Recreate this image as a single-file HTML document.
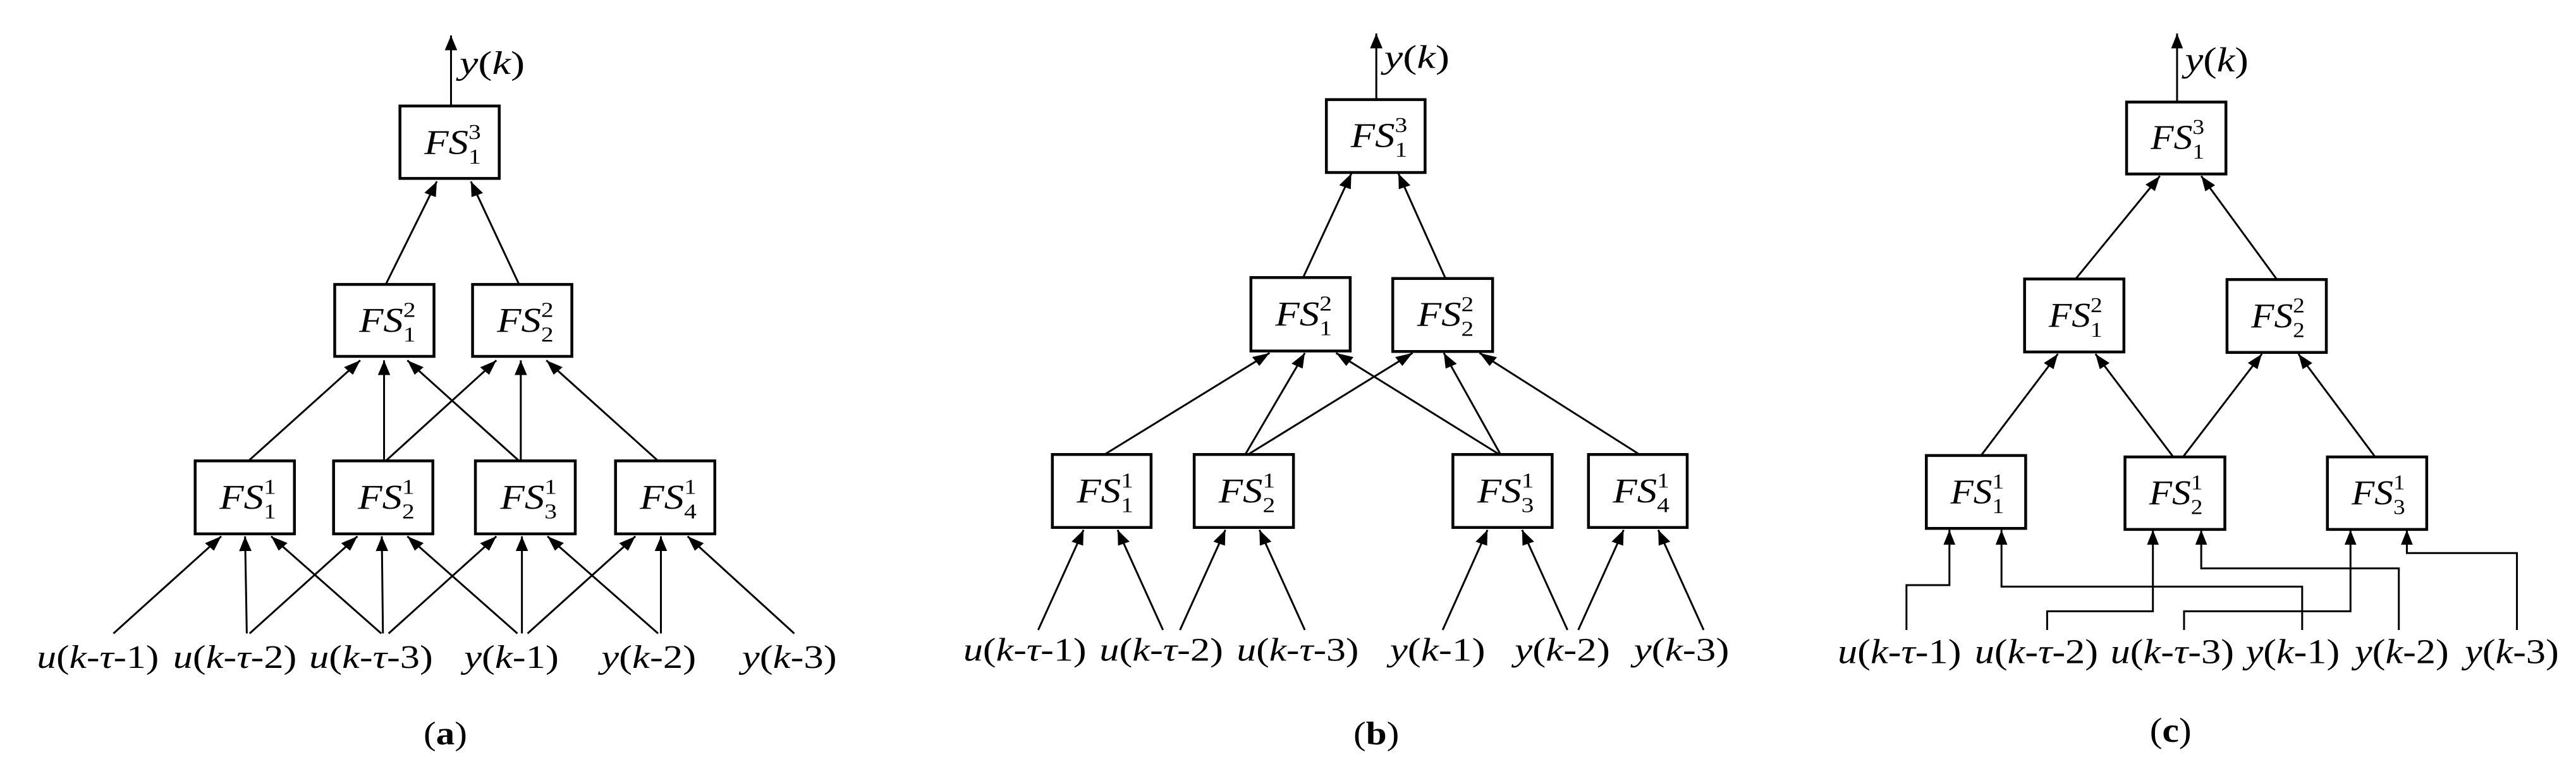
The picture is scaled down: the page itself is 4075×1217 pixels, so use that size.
<!DOCTYPE html>
<html><head><meta charset="utf-8"><style>
html,body{margin:0;padding:0;background:#fff;}
body{width:4075px;height:1217px;position:relative;overflow:hidden;}
svg{position:absolute;top:0;}
text{font-family:"Liberation Serif",serif;fill:#000;}
.ln{stroke:#000;stroke-width:3;fill:none;vector-effect:non-scaling-stroke;}
.bx{stroke:#000;stroke-width:4.5;fill:#fff;vector-effect:non-scaling-stroke;}
</style></head><body>

<!-- Panel (a) -->
<svg style="left:0" width="1400" height="1217" viewBox="0 0 1560 1560" preserveAspectRatio="none">
<defs><marker id="ma" viewBox="0 0 30 22" refX="30" refY="11" markerWidth="30" markerHeight="22" orient="auto" markerUnits="userSpaceOnUse"><path d="M0,0 L30,11 L0,22 z" fill="#000"/></marker></defs>
<g marker-end="url(#ma)">
<line class="ln" x1="795" y1="215" x2="795" y2="72"/>
<line class="ln" x1="680" y1="577" x2="770" y2="368"/>
<line class="ln" x1="915" y1="577" x2="830" y2="368"/>
<line class="ln" x1="438" y1="935" x2="635" y2="731"/>
<line class="ln" x1="677" y1="935" x2="677" y2="731"/>
<line class="ln" x1="915" y1="935" x2="718" y2="731"/>
<line class="ln" x1="680" y1="935" x2="875" y2="731"/>
<line class="ln" x1="918" y1="935" x2="918" y2="731"/>
<line class="ln" x1="1160" y1="935" x2="963" y2="731"/>
<line class="ln" x1="200" y1="1285" x2="390" y2="1088"/>
<line class="ln" x1="435" y1="1285" x2="432" y2="1088"/>
<line class="ln" x1="672" y1="1285" x2="478" y2="1088"/>
<line class="ln" x1="440" y1="1285" x2="630" y2="1088"/>
<line class="ln" x1="675" y1="1285" x2="673" y2="1088"/>
<line class="ln" x1="912" y1="1285" x2="718" y2="1088"/>
<line class="ln" x1="685" y1="1285" x2="875" y2="1088"/>
<line class="ln" x1="920" y1="1285" x2="920" y2="1088"/>
<line class="ln" x1="1160" y1="1285" x2="965" y2="1088"/>
<line class="ln" x1="930" y1="1285" x2="1120" y2="1088"/>
<line class="ln" x1="1165" y1="1285" x2="1165" y2="1088"/>
<line class="ln" x1="1400" y1="1285" x2="1212" y2="1088"/>
</g>
<rect class="bx" x="705" y="215" width="175" height="147"/>
<rect class="bx" x="590" y="577" width="175" height="146"/>
<rect class="bx" x="833" y="577" width="175" height="146"/>
<rect class="bx" x="344" y="935" width="175" height="148"/>
<rect class="bx" x="588" y="935" width="175" height="148"/>
<rect class="bx" x="838" y="935" width="176" height="148"/>
<rect class="bx" x="1085" y="935" width="175" height="148"/>
<g font-size="70">
<text x="748" y="312"><tspan font-style="italic">FS</tspan><tspan font-size="44" dy="20">1</tspan><tspan font-size="44" dx="-22" dy="-50">3</tspan></text>
<text x="633" y="673"><tspan font-style="italic">FS</tspan><tspan font-size="44" dy="20">1</tspan><tspan font-size="44" dx="-22" dy="-50">2</tspan></text>
<text x="876" y="673"><tspan font-style="italic">FS</tspan><tspan font-size="44" dy="20">2</tspan><tspan font-size="44" dx="-22" dy="-50">2</tspan></text>
<text x="387" y="1032"><tspan font-style="italic">FS</tspan><tspan font-size="44" dy="20">1</tspan><tspan font-size="44" dx="-22" dy="-50">1</tspan></text>
<text x="631" y="1032"><tspan font-style="italic">FS</tspan><tspan font-size="44" dy="20">2</tspan><tspan font-size="44" dx="-22" dy="-50">1</tspan></text>
<text x="882" y="1032"><tspan font-style="italic">FS</tspan><tspan font-size="44" dy="20">3</tspan><tspan font-size="44" dx="-22" dy="-50">1</tspan></text>
<text x="1128" y="1032"><tspan font-style="italic">FS</tspan><tspan font-size="44" dy="20">4</tspan><tspan font-size="44" dx="-22" dy="-50">1</tspan></text>
</g>
<g font-size="66">
<text x="810" y="150" textLength="115" lengthAdjust="spacingAndGlyphs"><tspan font-style="italic">y</tspan>(<tspan font-style="italic">k</tspan>)</text>
<text x="65" y="1355" textLength="215" lengthAdjust="spacingAndGlyphs"><tspan font-style="italic">u</tspan>(<tspan font-style="italic">k</tspan>-<tspan font-style="italic">τ</tspan>-1)</text>
<text x="305" y="1355" textLength="218" lengthAdjust="spacingAndGlyphs"><tspan font-style="italic">u</tspan>(<tspan font-style="italic">k</tspan>-<tspan font-style="italic">τ</tspan>-2)</text>
<text x="545" y="1355" textLength="218" lengthAdjust="spacingAndGlyphs"><tspan font-style="italic">u</tspan>(<tspan font-style="italic">k</tspan>-<tspan font-style="italic">τ</tspan>-3)</text>
<text x="818" y="1355" textLength="167" lengthAdjust="spacingAndGlyphs"><tspan font-style="italic">y</tspan>(<tspan font-style="italic">k</tspan>-1)</text>
<text x="1060" y="1355" textLength="167" lengthAdjust="spacingAndGlyphs"><tspan font-style="italic">y</tspan>(<tspan font-style="italic">k</tspan>-2)</text>
<text x="1308" y="1355" textLength="167" lengthAdjust="spacingAndGlyphs"><tspan font-style="italic">y</tspan>(<tspan font-style="italic">k</tspan>-3)</text>
<text x="785" y="1510" text-anchor="middle">(<tspan font-weight="bold">a</tspan>)</text>
</g>
</svg>

<!-- Panel (b) -->
<svg style="left:1400px" width="1400" height="1217" viewBox="0 0 1560 1560" preserveAspectRatio="none">
<defs><marker id="mb" viewBox="0 0 30 22" refX="30" refY="11" markerWidth="30" markerHeight="22" orient="auto" markerUnits="userSpaceOnUse"><path d="M0,0 L30,11 L0,22 z" fill="#000"/></marker></defs>
<g marker-end="url(#mb)">
<line class="ln" x1="866" y1="202" x2="866" y2="68"/>
<line class="ln" x1="737" y1="563" x2="822" y2="352"/>
<line class="ln" x1="988" y1="565" x2="905" y2="352"/>
<line class="ln" x1="387" y1="922" x2="678" y2="716"/>
<line class="ln" x1="635" y1="922" x2="740" y2="716"/>
<line class="ln" x1="640" y1="922" x2="930" y2="716"/>
<line class="ln" x1="1083" y1="922" x2="795" y2="716"/>
<line class="ln" x1="1085" y1="922" x2="985" y2="716"/>
<line class="ln" x1="1330" y1="922" x2="1048" y2="716"/>
<line class="ln" x1="270" y1="1278" x2="350" y2="1075"/>
<line class="ln" x1="490" y1="1278" x2="410" y2="1075"/>
<line class="ln" x1="520" y1="1278" x2="600" y2="1075"/>
<line class="ln" x1="740" y1="1278" x2="660" y2="1075"/>
<line class="ln" x1="983" y1="1278" x2="1062" y2="1075"/>
<line class="ln" x1="1203" y1="1278" x2="1123" y2="1075"/>
<line class="ln" x1="1222" y1="1278" x2="1302" y2="1075"/>
<line class="ln" x1="1443" y1="1278" x2="1363" y2="1075"/>
</g>
<rect class="bx" x="778" y="202" width="174" height="148"/>
<rect class="bx" x="645" y="563" width="175" height="149"/>
<rect class="bx" x="895" y="565" width="176" height="148"/>
<rect class="bx" x="295" y="922" width="174" height="148"/>
<rect class="bx" x="545" y="922" width="175" height="148"/>
<rect class="bx" x="1001" y="922" width="175" height="148"/>
<rect class="bx" x="1240" y="922" width="174" height="148"/>
<g font-size="70">
<text x="821" y="298"><tspan font-style="italic">FS</tspan><tspan font-size="44" dy="20">1</tspan><tspan font-size="44" dx="-22" dy="-50">3</tspan></text>
<text x="688" y="660"><tspan font-style="italic">FS</tspan><tspan font-size="44" dy="20">1</tspan><tspan font-size="44" dx="-22" dy="-50">2</tspan></text>
<text x="938" y="661"><tspan font-style="italic">FS</tspan><tspan font-size="44" dy="20">2</tspan><tspan font-size="44" dx="-22" dy="-50">2</tspan></text>
<text x="338" y="1019"><tspan font-style="italic">FS</tspan><tspan font-size="44" dy="20">1</tspan><tspan font-size="44" dx="-22" dy="-50">1</tspan></text>
<text x="588" y="1019"><tspan font-style="italic">FS</tspan><tspan font-size="44" dy="20">2</tspan><tspan font-size="44" dx="-22" dy="-50">1</tspan></text>
<text x="1044" y="1019"><tspan font-style="italic">FS</tspan><tspan font-size="44" dy="20">3</tspan><tspan font-size="44" dx="-22" dy="-50">1</tspan></text>
<text x="1283" y="1019"><tspan font-style="italic">FS</tspan><tspan font-size="44" dy="20">4</tspan><tspan font-size="44" dx="-22" dy="-50">1</tspan></text>
</g>
<g font-size="66">
<text x="880" y="138" textLength="115" lengthAdjust="spacingAndGlyphs"><tspan font-style="italic">y</tspan>(<tspan font-style="italic">k</tspan>)</text>
<text x="138" y="1340" textLength="217" lengthAdjust="spacingAndGlyphs"><tspan font-style="italic">u</tspan>(<tspan font-style="italic">k</tspan>-<tspan font-style="italic">τ</tspan>-1)</text>
<text x="378" y="1340" textLength="218" lengthAdjust="spacingAndGlyphs"><tspan font-style="italic">u</tspan>(<tspan font-style="italic">k</tspan>-<tspan font-style="italic">τ</tspan>-2)</text>
<text x="620" y="1340" textLength="215" lengthAdjust="spacingAndGlyphs"><tspan font-style="italic">u</tspan>(<tspan font-style="italic">k</tspan>-<tspan font-style="italic">τ</tspan>-3)</text>
<text x="890" y="1340" textLength="168" lengthAdjust="spacingAndGlyphs"><tspan font-style="italic">y</tspan>(<tspan font-style="italic">k</tspan>-1)</text>
<text x="1110" y="1340" textLength="168" lengthAdjust="spacingAndGlyphs"><tspan font-style="italic">y</tspan>(<tspan font-style="italic">k</tspan>-2)</text>
<text x="1320" y="1340" textLength="168" lengthAdjust="spacingAndGlyphs"><tspan font-style="italic">y</tspan>(<tspan font-style="italic">k</tspan>-3)</text>
<text x="866" y="1510" text-anchor="middle">(<tspan font-weight="bold">b</tspan>)</text>
</g>
</svg>

<!-- Panel (c) -->
<svg style="left:2750px" width="1325" height="1217" viewBox="0 0 1560 1560" preserveAspectRatio="none">
<defs><marker id="mc" viewBox="0 0 30 22" refX="30" refY="11" markerWidth="32" markerHeight="22" orient="auto" markerUnits="userSpaceOnUse"><path d="M0,0 L30,11 L0,22 z" fill="#000"/></marker></defs>
<g marker-end="url(#mc)">
<line class="ln" x1="817" y1="207" x2="817" y2="68"/>
<line class="ln" x1="628" y1="566" x2="785" y2="357"/>
<line class="ln" x1="1003" y1="567" x2="862" y2="357"/>
<line class="ln" x1="452" y1="924" x2="595" y2="718"/>
<line class="ln" x1="810" y1="927" x2="665" y2="718"/>
<line class="ln" x1="828" y1="927" x2="975" y2="718"/>
<line class="ln" x1="1186" y1="927" x2="1043" y2="718"/>
<polyline class="ln" points="313,1278 313,1187 393,1187 393,1075"/>
<polyline class="ln" points="1050,1278 1050,1190 490,1190 490,1075"/>
<polyline class="ln" points="575,1278 575,1240 772,1240 772,1075"/>
<polyline class="ln" points="1230,1278 1230,1153 862,1153 862,1075"/>
<polyline class="ln" points="830,1278 830,1240 1140,1240 1140,1075"/>
<polyline class="ln" points="1450,1278 1450,1122 1245,1122 1245,1075"/>
</g>
<rect class="bx" x="723" y="207" width="185" height="146"/>
<rect class="bx" x="533" y="566" width="185" height="148"/>
<rect class="bx" x="910" y="567" width="185" height="148"/>
<rect class="bx" x="350" y="924" width="185" height="148"/>
<rect class="bx" x="720" y="927" width="186" height="147"/>
<rect class="bx" x="1097" y="927" width="185" height="147"/>
<g font-size="70">
<text x="768" y="302"><tspan font-style="italic">FS</tspan><tspan font-size="44" dy="20">1</tspan><tspan font-size="44" dx="-22" dy="-50">3</tspan></text>
<text x="578" y="663"><tspan font-style="italic">FS</tspan><tspan font-size="44" dy="20">1</tspan><tspan font-size="44" dx="-22" dy="-50">2</tspan></text>
<text x="955" y="664"><tspan font-style="italic">FS</tspan><tspan font-size="44" dy="20">2</tspan><tspan font-size="44" dx="-22" dy="-50">2</tspan></text>
<text x="395" y="1021"><tspan font-style="italic">FS</tspan><tspan font-size="44" dy="20">1</tspan><tspan font-size="44" dx="-22" dy="-50">1</tspan></text>
<text x="765" y="1023"><tspan font-style="italic">FS</tspan><tspan font-size="44" dy="20">2</tspan><tspan font-size="44" dx="-22" dy="-50">1</tspan></text>
<text x="1142" y="1023"><tspan font-style="italic">FS</tspan><tspan font-size="44" dy="20">3</tspan><tspan font-size="44" dx="-22" dy="-50">1</tspan></text>
</g>
<g font-size="70">
<text x="832" y="145" textLength="118" lengthAdjust="spacingAndGlyphs"><tspan font-style="italic">y</tspan>(<tspan font-style="italic">k</tspan>)</text>
<text x="185" y="1345" textLength="230" lengthAdjust="spacingAndGlyphs"><tspan font-style="italic">u</tspan>(<tspan font-style="italic">k</tspan>-<tspan font-style="italic">τ</tspan>-1)</text>
<text x="440" y="1345" textLength="230" lengthAdjust="spacingAndGlyphs"><tspan font-style="italic">u</tspan>(<tspan font-style="italic">k</tspan>-<tspan font-style="italic">τ</tspan>-2)</text>
<text x="693" y="1345" textLength="230" lengthAdjust="spacingAndGlyphs"><tspan font-style="italic">u</tspan>(<tspan font-style="italic">k</tspan>-<tspan font-style="italic">τ</tspan>-3)</text>
<text x="945" y="1345" textLength="175" lengthAdjust="spacingAndGlyphs"><tspan font-style="italic">y</tspan>(<tspan font-style="italic">k</tspan>-1)</text>
<text x="1148" y="1345" textLength="175" lengthAdjust="spacingAndGlyphs"><tspan font-style="italic">y</tspan>(<tspan font-style="italic">k</tspan>-2)</text>
<text x="1353" y="1345" textLength="175" lengthAdjust="spacingAndGlyphs"><tspan font-style="italic">y</tspan>(<tspan font-style="italic">k</tspan>-3)</text>
<text x="805" y="1505" text-anchor="middle">(<tspan font-weight="bold">c</tspan>)</text>
</g>
</svg>
</body></html>
